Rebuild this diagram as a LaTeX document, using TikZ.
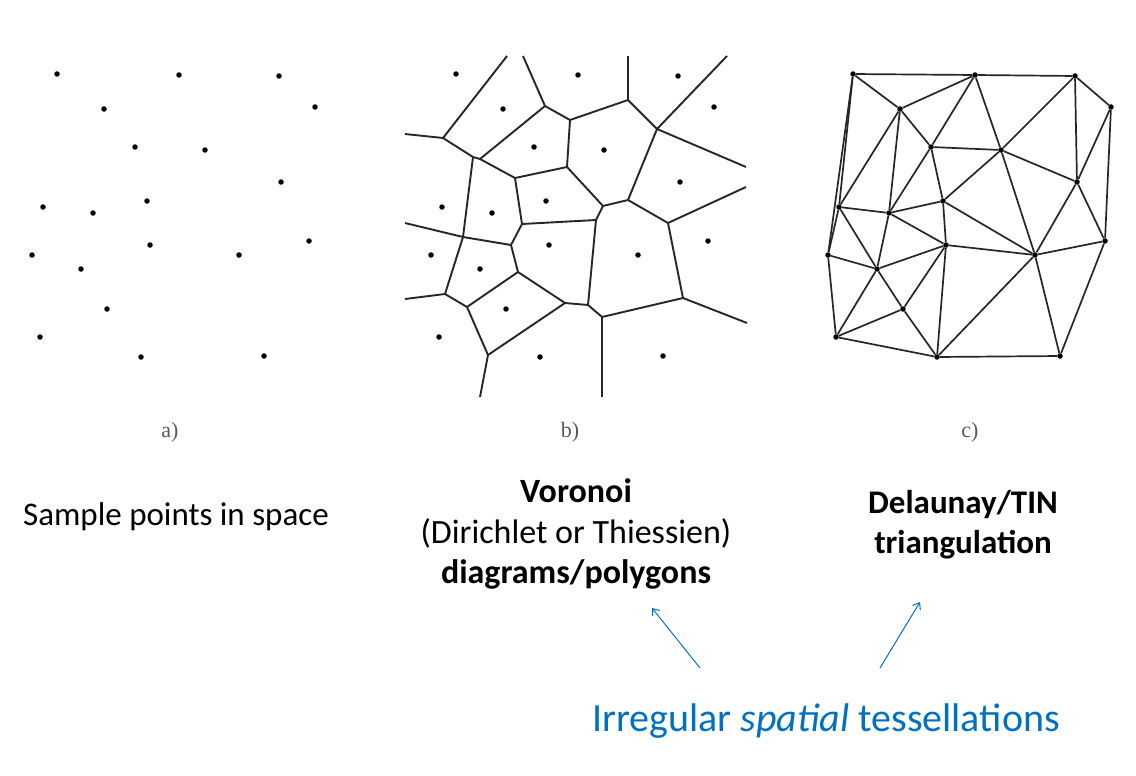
\documentclass[tikz,border=0pt]{standalone}
\usepackage{fontspec}
\setmainfont{Carlito}
\newfontfamily\panelfont{Liberation Serif}
\usepackage{xcolor}
\usepackage{tikz}
\usetikzlibrary{arrows.meta, positioning, calc}

\definecolor{tessblue}{HTML}{0070C0}

\begin{document}
\begin{tikzpicture}[
    x=1pt, y=-1pt,
    site/.style={circle, fill=black, inner sep=0pt, minimum size=5.5pt},
    cell/.style={line width=1.9pt, black!85},
    tri/.style={line width=1.7pt, black!85},
    panel/.style={font=\panelfont\fontsize{22}{24}\selectfont, text=black!65},
    caption/.style={font=\fontsize{33}{40}\selectfont, align=center},
    arrow/.style={-{Straight Barb[length=6pt, width=9pt]}, tessblue, line width=1pt}
]
    \useasboundingbox (0,0) rectangle (1136,776);

    % sample points, same set in all three panels
    \foreach \p/\dx in {a/0, b/399, c/796}
      \foreach \i/\x/\y in {1/57/74, 2/179/75, 3/279/76, 4/104/109, 5/315/107,
                            6/135/147, 7/205/150, 8/281/182, 9/43/207, 10/93/213,
                            11/147/201, 12/32/255, 13/150/245, 14/239/255, 15/309/241,
                            16/81/269, 17/107/309, 18/40/337, 19/141/357, 20/264/356}
        \node[site] (\p\i) at (\x+\dx,\y) {};

    % Voronoi cells
    \coordinate (e1) at (405,134);  \coordinate (e2) at (507,56);
    \coordinate (e3) at (523,56);   \coordinate (e4) at (628,56);
    \coordinate (e5) at (727,56);   \coordinate (e6) at (746,167);
    \coordinate (e7) at (746,187);  \coordinate (e8) at (747,323);
    \coordinate (e9) at (602,397);  \coordinate (e10) at (480,397);
    \coordinate (e11) at (405,299); \coordinate (e12) at (405,223);
    \coordinate (v1) at (443,138);  \coordinate (v2) at (473,157);
    \coordinate (v3) at (480,159);  \coordinate (v4) at (515,178);
    \coordinate (v5) at (545,106);  \coordinate (v6) at (570,120);
    \coordinate (v7) at (567,167);  \coordinate (v8) at (522,224);
    \coordinate (v9) at (628,100);  \coordinate (v10) at (657,129);
    \coordinate (v11) at (628,200); \coordinate (v12) at (603,206);
    \coordinate (v13) at (463,237); \coordinate (v14) at (511,245);
    \coordinate (v15) at (602,317); \coordinate (v16) at (683,298);
    \coordinate (v17) at (668,223); \coordinate (v18) at (518,272);
    \coordinate (v19) at (467,307); \coordinate (v20) at (588,305);
    \coordinate (v21) at (565,303); \coordinate (v22) at (445,294);
    \coordinate (v23) at (488,355); \coordinate (v24) at (596,220);
    \foreach \u/\v in {e1/v1, v1/e2, v1/v2, v2/v3, v3/v4, v3/v5, v5/e3, v5/v6,
                       v6/v7, v7/v4, v6/v9, v9/e4, v9/v10, v10/e5, v10/e6, v10/v11,
                       v11/v12, v12/v7, v11/v17, v17/e7, v17/v16, v16/e8, v16/v15,
                       v15/e9, v15/v20, v20/v24, v24/v12, v24/v8, v8/v4, v8/v14,
                       v14/v13, v13/v2, v13/e12, v13/v22, v22/e11, v22/v19, v19/v18,
                       v18/v14, v18/v21, v21/v20, v21/v23, v19/v23, v23/e10}
      \draw[cell] (\u) -- (\v);

    % Delaunay triangles
    \foreach \u/\v in {1/2, 1/4, 1/9, 1/12, 2/4, 2/6, 2/7, 2/3, 3/7, 3/8, 3/5, 5/8,
                       5/15, 4/6, 4/9, 4/10, 6/7, 6/10, 6/11, 7/11, 7/8, 7/14, 8/14,
                       8/15, 9/10, 9/12, 9/16, 10/11, 10/13, 10/16, 11/13, 11/14,
                       12/16, 12/18, 13/14, 13/16, 13/17, 13/19, 14/15, 14/19, 14/20,
                       15/20, 16/17, 16/18, 17/18, 17/19, 18/19, 19/20}
      \draw[tri] (c\u) -- (c\v);

    \node[panel] (la) at (170,432) {a)};
    \node[panel] (lb) at (570,432) {b)};
    \node[panel] (lc) at (970,432) {c)};

    \node[caption] (sample) at (176,517) {Sample points in space};
    \node[caption, font=\fontsize{34}{40.5}\selectfont] (voronoi) at (576,534)
        {\textbf{Voronoi}\\(Dirichlet or Thiessien)\\\textbf{diagrams/polygons}};
    \node[caption] (delaunay) at (963,525) {\textbf{Delaunay/TIN}\\\textbf{triangulation}};
    \node[caption, font=\fontsize{40}{46}\selectfont, text=tessblue] (tess) at (826,721)
        {Irregular \textit{spatial} tessellations};

    \coordinate (from1) at (700,668);
    \coordinate (to1) at (652,608);
    \coordinate (from2) at (880,668);
    \coordinate (to2) at (920,602);
    \draw[arrow] (from1) -- (to1);
    \draw[arrow] (from2) -- (to2);
\end{tikzpicture}
\end{document}
